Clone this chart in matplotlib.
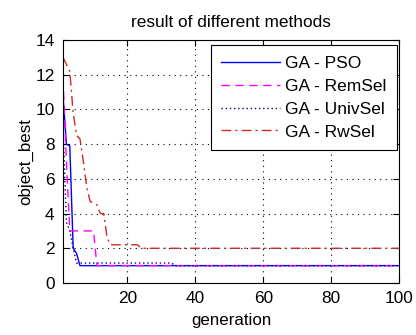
import matplotlib
matplotlib.use("Agg")
import matplotlib.pyplot as plt

plt.rcParams['font.family'] = ['Liberation Sans', 'DejaVu Sans']

title = "result of different methods"
xlabel = "generation"
ylabel = "object_best"
labels = ["GA - PSO", "GA - RemSel", "GA - UnivSel", "GA - RwSel"]

pso_gen = [1, 2, 3, 4, 5, 6, 100]
pso_val = [10.8, 8.0, 7.9, 2.0, 1.7, 1.0, 1.0]

rem_gen = [1, 2, 3, 10, 11, 100]
rem_val = [11.8, 7.0, 3.0, 3.0, 1.0, 1.0]

univ_gen = [1, 2, 3, 4, 5, 33, 34, 100]
univ_val = [9.0, 3.5, 3.0, 2.0, 1.15, 1.15, 1.0, 1.0]

rw_gen = [1, 2, 3, 4, 5, 6, 7, 8, 9, 10, 11, 12, 13, 14, 15, 23, 24, 100]
rw_val = [13.0, 12.6, 12.2, 9.8, 8.5, 8.3, 7.0, 5.5, 4.7, 4.6, 4.5, 4.0, 4.0, 2.6, 2.2, 2.2, 2.0, 2.0]

xticks = [20, 40, 60, 80, 100]
yticks = [0, 2, 4, 6, 8, 10, 12, 14]

fig = plt.figure(figsize=(4.16, 3.35), dpi=100)
ax = fig.add_axes([63/416, 52/335, 336/416, 243/335])

ax.plot(pso_gen, pso_val, color='#0000ff', lw=1.0, ls='-', label=labels[0])
ax.plot(rem_gen, rem_val, color='#ff00ff', lw=1.0, ls=(0, (6, 4)), label=labels[1])
ax.plot(univ_gen, univ_val, color='#000080', lw=1.0, ls=(0, (1, 2)), label=labels[2])
ax.plot(rw_gen, rw_val, color='#cc2a2a', lw=1.0, ls=(0, (7, 3, 1.5, 3)), label=labels[3])

ax.set_xlim(1, 100)
ax.set_ylim(0, 14)
ax.set_xticks(xticks)
ax.set_yticks(yticks)
ax.tick_params(direction='in', top=True, right=True, labelsize=12.4, length=4, width=0.8, pad=6)
ax.grid(True, color='black', ls=(0, (1, 4)), lw=0.8)
for s in ax.spines.values():
    s.set_linewidth(0.8)

ax.set_title(title, fontsize=12.4, pad=9.5)
ax.set_xlabel(xlabel, fontsize=12.2, labelpad=5)
ax.set_ylabel(ylabel, fontsize=12.2, labelpad=1.5)

leg = ax.legend(loc='upper right', bbox_to_anchor=(0.994, 0.979), fontsize=12.5,
                fancybox=False, edgecolor='black', framealpha=1, handlelength=3.4,
                borderaxespad=0, labelspacing=0.45, handletextpad=0.3, borderpad=0.6)
leg.get_frame().set_linewidth(0.8)

fig.savefig("out.png", dpi=100)
